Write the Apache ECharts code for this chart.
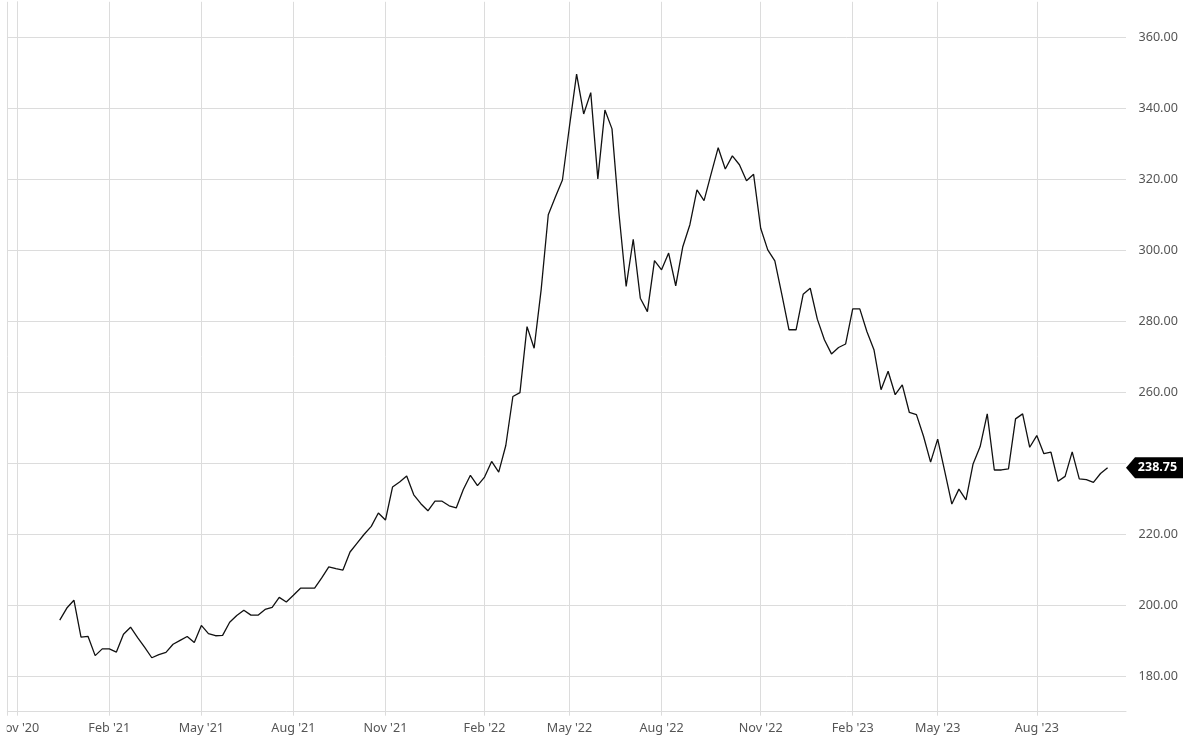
<!DOCTYPE html>
<html>
<head>
<meta charset="utf-8">
<script src="https://cdn.jsdelivr.net/npm/echarts@6/dist/echarts.min.js"></script>
<style>
  html, body { margin: 0; padding: 0; background: #fff; }
  #chart { width: 1200px; height: 753px; }
</style>
</head>
<body>
<div id="chart"></div>
<script>
// Tick labels on the x axis and the week (from the first tick) where each sits
const tickLabels = ["Nov '20", "Feb '21", "May '21", "Aug '21", "Nov '21", "Feb '22", "May '22", "Aug '22", "Nov '22", "Feb '23", "May '23", "Aug '23"];
const tickWeeks = [0, 13, 26, 39, 52, 66, 78, 91, 105, 118, 130, 144];
// Y axis tick values
const yTicks = [180, 200, 220, 240, 260, 280, 300, 320, 340, 360];
// Week index of the first price
const firstWeek = 6;
// Weekly prices
const prices = [
  195.8, 199.2, 201.4, 191.0, 191.2, 185.8, 187.7, 187.7, 186.8, 191.8,
  193.8, 190.9, 188.1, 185.2, 186.1, 186.7, 189.0, 190.1, 191.2, 189.5,
  194.3, 192.0, 191.4, 191.5, 195.2, 197.1, 198.6, 197.2, 197.2, 198.8,
  199.4, 202.2, 200.9, 202.8, 204.8, 204.8, 204.8, 207.7, 210.8, 210.3,
  209.9, 215.0, 217.5, 220.0, 222.2, 226.0, 224.0, 233.3, 234.7, 236.4,
  231.1, 228.6, 226.6, 229.3, 229.3, 228.0, 227.4, 232.6, 236.6, 233.7,
  236.1, 240.5, 237.5, 245.0, 258.8, 259.9, 278.5, 272.4, 289.0, 310.0,
  315.0, 319.8, 335.0, 349.6, 338.4, 344.4, 320.1, 339.5, 334.2, 310.0,
  289.8, 303.1, 286.5, 282.7, 297.1, 294.5, 299.2, 290.0, 301.0, 307.2,
  317.0, 314.0, 321.5, 328.9, 322.9, 326.6, 324.1, 319.6, 321.4, 306.2,
  300.1, 297.0, 287.4, 277.6, 277.6, 287.6, 289.3, 280.6, 274.8, 270.8,
  272.6, 273.6, 283.5, 283.5, 277.1, 272.0, 260.7, 265.9, 259.3, 262.1,
  254.3, 253.7, 247.6, 240.3, 246.8, 237.7, 228.5, 232.7, 229.7, 239.8,
  244.7, 253.9, 238.1, 238.1, 238.4, 252.5, 253.9, 244.5, 247.8, 242.7,
  243.1, 234.9, 236.3, 243.2, 235.6, 235.4, 234.6, 237.1, 238.75
];
const lastLabel = '238.75';

const xMin = -1.41, xMax = 156.6;
const gridColor = '#dcdcdc';
const textColor = '#555';
const fontFamily = "'Noto Sans', 'Open Sans', sans-serif";

const chart = echarts.init(document.getElementById('chart'), null, { renderer: 'canvas' });
const seriesData = prices.map((v, i) => [firstWeek + i, v]);
const lastValue = prices[prices.length - 1];

chart.setOption({
  animation: false,
  backgroundColor: '#fff',
  grid: { left: 7.3, right: 74, top: 1.8, bottom: 41.3, containLabel: false, outerBoundsMode: 'none' },
  xAxis: {
    type: 'value',
    min: xMin,
    max: xMax,
    axisLine: { show: true, lineStyle: { color: gridColor, width: 1 } },
    axisTick: { show: true, customValues: [xMin].concat(tickWeeks), length: 4, lineStyle: { color: gridColor } },
    axisLabel: {
      show: true,
      customValues: tickWeeks,
      margin: 10,
      color: textColor,
      fontSize: 12.6,
      fontFamily: fontFamily,
      formatter: function (v) {
        const i = tickWeeks.indexOf(Math.round(v));
        return i >= 0 ? tickLabels[i] : '';
      }
    },
    splitLine: { show: true, customValues: [xMin].concat(tickWeeks), lineStyle: { color: gridColor, width: 1 } }
  },
  yAxis: {
    type: 'value',
    position: 'right',
    min: 170,
    max: 370,
    axisLine: { show: true, lineStyle: { color: gridColor, width: 1 } },
    axisTick: { show: false, customValues: yTicks },
    axisLabel: {
      show: true,
      customValues: yTicks,
      margin: 12.5,
      color: textColor,
      fontSize: 12.6,
      fontFamily: fontFamily,
      formatter: function (v) { return Number(v).toFixed(2); }
    },
    splitLine: { show: true, customValues: yTicks, lineStyle: { color: gridColor, width: 1 } }
  },
  // white mask: the reference clips the first axis label at the chart's left frame
  graphic: [{
    type: 'rect',
    left: 0,
    top: 716,
    shape: { width: 6.8, height: 37 },
    style: { fill: '#fff' },
    silent: true,
    z: 100
  }],
  series: [{
    type: 'line',
    data: seriesData,
    showSymbol: false,
    symbol: 'none',
    lineStyle: { color: '#111', width: 1.3 },
    z: 5,
    markPoint: {
      silent: true,
      animation: false,
      data: [{
        coord: [xMax, lastValue],
        symbol: 'path://M0,10.5 L9,0 L57,0 L57,21 L9,21 Z',
        symbolSize: [57, 21],
        symbolOffset: [28.5, 0],
        symbolKeepAspect: false,
        itemStyle: { color: '#000' },
        label: {
          show: true,
          position: 'inside',
          offset: [3, 0],
          color: '#fff',
          fontWeight: 'bold',
          fontSize: 12.5,
          fontFamily: fontFamily,
          formatter: lastLabel
        }
      }]
    }
  }]
});
</script>
</body>
</html>
